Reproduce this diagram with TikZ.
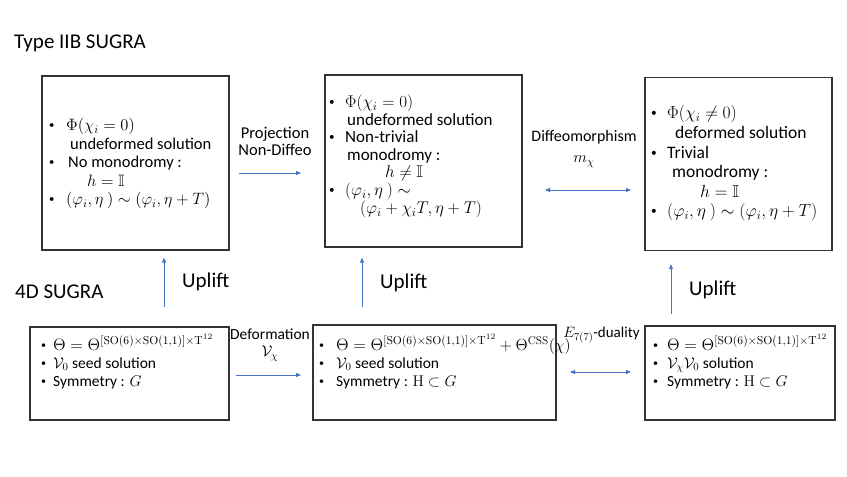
\RequirePackage{fix-cm}
\documentclass[tikz,border=0pt]{standalone}
\usepackage{amsmath,amssymb}
\usepackage[no-math]{fontspec}
\setmainfont{Carlito}
\usetikzlibrary{positioning,arrows.meta}
\definecolor{liftblue}{RGB}{68,114,196}
\newcommand{\thetaseed}{\scalebox{1.07}{$\Theta=\Theta^{[\mathrm{SO}(6)\times\mathrm{SO}(1,1)]\times\mathrm{T}^{12}}$}}
\newcommand{\pt}{\raisebox{0.12em}{\scalebox{0.65}{\textbullet}}}

\begin{document}
\begin{tikzpicture}
    [
      x=1pt, y=-1pt,
      frame/.style = {draw=black!80, line width=1.3pt, inner sep=0pt},
      boxtxt/.style = {inner sep=0pt, anchor=west, align=left},
      heading/.style = {inner sep=0pt, anchor=west, font=\fontsize{21}{24}\selectfont},
      arrowlabel/.style = {inner sep=0pt, align=center, font=\fontsize{16.5}{17}\selectfont},
      lift/.style = {draw=liftblue, line width=0.9pt, -{Triangle[length=5pt,width=4pt]}},
      swap/.style = {draw=liftblue, line width=0.9pt, {Triangle[length=5pt,width=4pt]}-{Triangle[length=5pt,width=4pt]}}
    ]
    \useasboundingbox (0,0) rectangle (847,477);

    % headings
    \node[heading] (iib) at (14,43) {Type IIB SUGRA};
    \node[heading] (fourd) at (15,292) {4D SUGRA};

    % Type IIB boxes
    \node[frame, minimum width=187pt, minimum height=174pt] (iibA) at (135.5,163) {};
    \node[frame, minimum width=197pt, minimum height=172pt] (iibB) at (423.5,161) {};
    \node[frame, minimum width=187pt, minimum height=173pt] (iibC) at (738.5,164) {};

    \node[boxtxt, font=\fontsize{16.5}{18.5}\selectfont] (iibAtext) at (49,164) {\begin{tabular}{@{}p{17pt}@{}l@{}}
      \pt & $\Phi(\chi_i = 0)$\\
       & \hspace{4pt}undeformed solution\\
      \pt & \hspace{2pt}No monodromy :\\
       & \hspace{21pt}$h = \mathbb{I}$\\
      \pt & $(\varphi_i,\eta\ ) \sim (\varphi_i,\eta + T)$
    \end{tabular}};
    \node[boxtxt, font=\fontsize{17}{17.5}\selectfont] (iibBtext) at (329,157) {\begin{tabular}{@{}p{16pt}@{}l@{}}
      \pt & $\Phi(\chi_i = 0)$\\
       & \hspace{2pt}undeformed solution\\
      \pt & Non-trivial\\
       & \hspace{2pt}monodromy :\\
       & \hspace{40pt}$h \neq \mathbb{I}$\\
      \pt & $(\varphi_i,\eta\ ) \sim$\\
       & \hspace{15pt}$(\varphi_i + \chi_i T,\eta + T)$
    \end{tabular}};
    \node[boxtxt, font=\fontsize{17.5}{19.6}\selectfont] (iibCtext) at (651,164) {\begin{tabular}{@{}p{16pt}@{}l@{}}
      \pt & $\Phi(\chi_i \neq 0)$\\
       & \hspace{8pt}deformed solution\\
      \pt & Trivial\\
       & \hspace{5pt}monodromy :\\
       & \hspace{33pt}$h = \mathbb{I}$\\
      \pt & $(\varphi_i,\eta\ ) \sim (\varphi_i,\eta + T)$
    \end{tabular}};

    % 4D boxes
    \node[frame, minimum width=199pt, minimum height=93pt] (sugA) at (129.5,373.5) {};
    \node[frame, minimum width=243pt, minimum height=95pt] (sugB) at (434.5,372.5) {};
    \node[frame, minimum width=190pt, minimum height=94pt] (sugC) at (740,373) {};

    \node[boxtxt, font=\fontsize{15.5}{18}\selectfont] (sugAtext) at (41,363) {\begin{tabular}{@{}p{12pt}@{}l@{}}
      \pt & \thetaseed\\
      \pt & $\mathcal{V}_0$ seed solution\\
      \pt & Symmetry : $G$
    \end{tabular}};
    \node[boxtxt, font=\fontsize{15.5}{18}\selectfont] (sugBtext) at (319,363) {\begin{tabular}{@{}p{17pt}@{}l@{}}
      \pt & \thetaseed\ \scalebox{1.03}{$+\ \Theta^{\mathrm{CSS}}(\chi)$}\\
      \pt & $\mathcal{V}_0$ seed solution\\
      \pt & Symmetry : $\mathrm{H}\subset G$
    \end{tabular}};
    \node[boxtxt, font=\fontsize{15.5}{18}\selectfont] (sugCtext) at (653,363) {\begin{tabular}{@{}p{14pt}@{}l@{}}
      \pt & \thetaseed\\
      \pt & $\mathcal{V}_\chi\mathcal{V}_0$ solution\\
      \pt & Symmetry : $\mathrm{H}\subset G$
    \end{tabular}};

    % uplifts
    \node[heading] (upA) at (182,282) {Uplift};
    \node[heading] (upB) at (380,283) {Uplift};
    \node[heading] (upC) at (689,290) {Uplift};
    \coordinate (liftA) at (164,0);
    \coordinate (liftB) at (362,0);
    \coordinate (liftC) at (671,0);
    \draw[lift, shorten <=19pt, shorten >=7pt] (sugA.north -| liftA) -- (iibA.south -| liftA);
    \draw[lift, shorten <=17pt, shorten >=10pt] (sugB.north -| liftB) -- (iibB.south -| liftB);
    \draw[lift, shorten <=11pt, shorten >=13pt] (sugC.north -| liftC) -- (iibC.south -| liftC);

    % horizontal maps
    \node[arrowlabel] (proj) at (275,141) {Projection\\Non-Diffeo};
    \node[arrowlabel, font=\fontsize{16}{21}\selectfont] (diffeo) at (584,149) {Diffeomorphism\\$m_\chi$};
    \node[arrowlabel, font=\fontsize{15.5}{17.5}\selectfont] (deform) at (270,345) {Deformation\\$\mathcal{V}_\chi$};
    \node[arrowlabel, font=\fontsize{15}{17}\selectfont] (dual) at (601.5,335) {$E_{7(7)}$-duality};
    \coordinate (projL) at (239,173);
    \coordinate (projR) at (301,173);
    \coordinate (diffL) at (545,190);
    \coordinate (diffR) at (631,190);
    \coordinate (defL) at (236,375);
    \coordinate (defR) at (301,375);
    \coordinate (dualL) at (570,372);
    \coordinate (dualR) at (631,372);
    \draw[lift] (projL) -- (projR);
    \draw[swap] (diffL) -- (diffR);
    \draw[lift] (defL) -- (defR);
    \draw[swap] (dualL) -- (dualR);
\end{tikzpicture}
\end{document}
